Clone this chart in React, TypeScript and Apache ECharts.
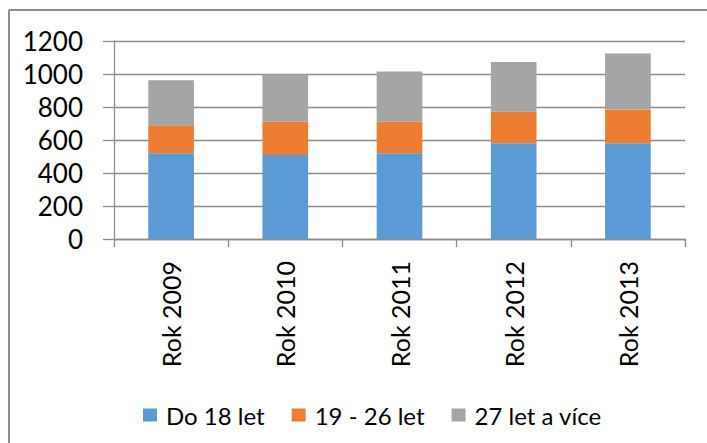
import React, { useEffect, useRef } from "react";
import * as echarts from "echarts";

const categories = ["Rok 2009", "Rok 2010", "Rok 2011", "Rok 2012", "Rok 2013"];
const seriesNames = ["Do 18 let", "19 - 26 let", "27 let a více"];
const do18 = [520, 509, 520, 580, 580];
const od19do26 = [169, 202, 191, 191, 205];
const od27 = [273, 286, 304, 302, 339];
const colors = ["#5B9BD5", "#ED7D31", "#A5A5A5"];

export default function App() {
  const ref = useRef<HTMLDivElement>(null);
  useEffect(() => {
    if (!ref.current) return;
    const chart = echarts.init(ref.current, null, { renderer: "svg" });
    const font = "Lato, 'Liberation Sans', sans-serif";
    const data = [do18, od19do26, od27];
    chart.setOption({
      animation: false,
      backgroundColor: "#ffffff",
      color: colors,
      grid: { left: 114, right: 22, top: 41, bottom: 204, containLabel: false },
      legend: {
        left: 138,
        top: 398,
        icon: "rect",
        itemWidth: 14,
        itemHeight: 13,
        itemGap: 27,
        itemStyle: { borderWidth: 0 },
        textStyle: { fontFamily: font, fontSize: 24, color: "#000", padding: [0, 0, 0, 4] },
        data: seriesNames,
      },
      xAxis: {
        type: "category",
        data: categories,
        axisLine: { lineStyle: { color: "#8c8c8c", width: 1.3 } },
        axisTick: { show: true, length: 8, lineStyle: { color: "#8c8c8c", width: 1.3 } },
        axisLabel: {
          rotate: 90,
          margin: 22,
          interval: 0,
          fontFamily: font,
          fontSize: 25,
          color: "#000",
        },
      },
      yAxis: {
        type: "value",
        min: 0,
        max: 1200,
        interval: 200,
        axisLine: { show: true, lineStyle: { color: "#8c8c8c", width: 1.3 } },
        axisTick: { show: true, length: 11, lineStyle: { color: "#8c8c8c", width: 1.3 } },
        splitLine: { lineStyle: { color: "#8c8c8c", width: 1.3 } },
        axisLabel: {
          margin: 31,
          fontFamily: font,
          fontSize: 26,
          color: "#000",
          formatter: (v: number) => String(v),
        },
      },
      graphic: [
        { type: "line", shape: { x1: 9, y1: 10, x2: 707, y2: 10 }, style: { stroke: "#8f8f8f", lineWidth: 2 } },
        { type: "line", shape: { x1: 9, y1: 10, x2: 9, y2: 443 }, style: { stroke: "#8f8f8f", lineWidth: 2 } },
      ],
      series: seriesNames.map((name, i) => ({
        name,
        type: "bar",
        stack: "total",
        barWidth: "40%",
        data: data[i],
        itemStyle: { color: colors[i] },
      })),
    });
    return () => chart.dispose();
  }, []);
  return (
    <div
      ref={ref}
      style={{ position: "fixed", left: 0, top: 0, width: 707, height: 443 }}
    />
  );
}
